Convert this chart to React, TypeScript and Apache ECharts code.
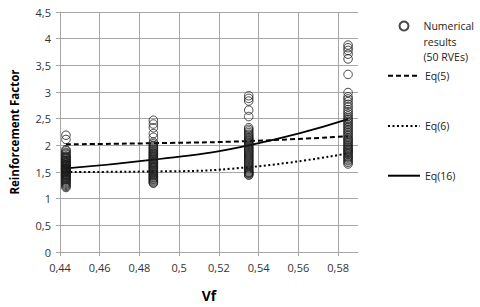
import React, { useEffect, useRef } from 'react';
import * as echarts from 'echarts';

// Volume fraction of each group of RVEs
const vfColumns = [0.443, 0.487, 0.535, 0.585];

// Numerical results (50 RVEs per volume fraction)
const rveVf1 = [2.19, 2.11, 1.92, 1.90, 1.87, 1.85, 1.83, 1.80, 1.79, 1.77, 1.76, 1.74, 1.72, 1.71, 1.70, 1.68, 1.67, 1.66, 1.64, 1.63, 1.62, 1.61, 1.60, 1.58, 1.57, 1.56, 1.55, 1.54, 1.53, 1.52, 1.51, 1.50, 1.49, 1.48, 1.46, 1.45, 1.44, 1.43, 1.41, 1.40, 1.38, 1.36, 1.35, 1.33, 1.31, 1.29, 1.27, 1.25, 1.23, 1.21];
const rveVf2 = [2.47, 2.40, 2.33, 2.22, 2.15, 2.06, 2.03, 2.00, 1.98, 1.96, 1.94, 1.92, 1.90, 1.88, 1.86, 1.85, 1.83, 1.81, 1.79, 1.78, 1.76, 1.74, 1.73, 1.71, 1.69, 1.68, 1.66, 1.65, 1.63, 1.61, 1.60, 1.58, 1.57, 1.55, 1.53, 1.52, 1.50, 1.49, 1.47, 1.45, 1.44, 1.42, 1.40, 1.39, 1.37, 1.36, 1.34, 1.32, 1.30, 1.29];
const rveVf3 = [2.93, 2.88, 2.83, 2.66, 2.54, 2.33, 2.30, 2.27, 2.24, 2.21, 2.19, 2.16, 2.14, 2.12, 2.10, 2.08, 2.06, 2.04, 2.02, 2.00, 1.98, 1.96, 1.94, 1.92, 1.90, 1.88, 1.86, 1.84, 1.82, 1.80, 1.78, 1.76, 1.74, 1.72, 1.70, 1.68, 1.66, 1.64, 1.62, 1.60, 1.58, 1.56, 1.54, 1.52, 1.50, 1.49, 1.48, 1.47, 1.45, 1.44];
const rveVf4 = [3.88, 3.83, 3.78, 3.71, 3.62, 3.33, 2.99, 2.91, 2.87, 2.82, 2.77, 2.72, 2.67, 2.63, 2.59, 2.55, 2.51, 2.48, 2.45, 2.42, 2.39, 2.36, 2.33, 2.30, 2.27, 2.24, 2.21, 2.18, 2.15, 2.12, 2.10, 2.07, 2.05, 2.02, 2.00, 1.97, 1.95, 1.93, 1.91, 1.89, 1.87, 1.85, 1.83, 1.80, 1.78, 1.76, 1.73, 1.71, 1.68, 1.65];

// Analytical equations
const eq5 = [2.02, 2.04, 2.08, 2.17];
const eq6 = [1.50, 1.51, 1.59, 1.85];
const eq16 = [1.57, 1.73, 2.00, 2.49];

// Tick labels
const xTicks = [0.44, 0.46, 0.48, 0.5, 0.52, 0.54, 0.56, 0.58];

const FONT = '"Open Sans", sans-serif';
const GRID = '#a6a6a6';
const INK = '#000000';

export default function App() {
  const ref = useRef<HTMLDivElement>(null);

  useEffect(() => {
    if (!ref.current) return;
    const chart = echarts.init(ref.current, undefined, { renderer: 'svg' });
    const rveGroups = [rveVf1, rveVf2, rveVf3, rveVf4];
    const scatterData: number[][] = [];
    rveGroups.forEach((g, i) => g.forEach((v) => scatterData.push([vfColumns[i], v])));
    const lineData = (vals: number[]) => vals.map((v, i) => [vfColumns[i], v]);
    const comma = (v: number) => String(Math.round(v * 100) / 100).replace('.', ',');

    const lineLegend = (name: string, top: number) => ({
      data: [name],
      left: 387,
      top,
      padding: 0,
      itemWidth: 32,
      itemHeight: 16,
      selectedMode: false,
      itemStyle: { opacity: 0 },
      textStyle: { fontFamily: FONT, fontSize: 10.5, lineHeight: 16, color: '#222' },
    });

    chart.setOption({
      animation: false,
      textStyle: { fontFamily: FONT },
      grid: { left: 52, right: 122, top: 12, bottom: 55, containLabel: false },
      xAxis: {
        type: 'value',
        min: 0.44,
        max: 0.59,
        interval: 0.02,
        name: 'Vf',
        nameLocation: 'middle',
        nameGap: 36,
        nameTextStyle: { fontFamily: FONT, fontWeight: 'bold', fontSize: 14, color: '#000' },
        axisLine: { show: true, lineStyle: { color: GRID, width: 1 } },
        axisTick: { show: true, length: 4, customValues: xTicks, lineStyle: { color: GRID } },
        axisLabel: {
          customValues: xTicks,
          margin: 10,
          fontSize: 11,
          color: '#333',
          fontFamily: FONT,
          formatter: (v: number) => comma(v),
        },
        splitLine: { show: true, lineStyle: { color: GRID, width: 1 } },
      },
      yAxis: {
        type: 'value',
        min: 0,
        max: 4.5,
        interval: 0.5,
        name: 'Reinforcement Factor',
        nameLocation: 'middle',
        nameGap: 40,
        nameTextStyle: { fontFamily: FONT, fontWeight: 'bold', fontSize: 11.5, color: '#000' },
        axisLine: { show: true, lineStyle: { color: GRID, width: 1 } },
        axisTick: { show: true, length: 4, lineStyle: { color: GRID } },
        axisLabel: {
          margin: 9,
          fontSize: 11,
          color: '#333',
          fontFamily: FONT,
          formatter: (v: number) => comma(v),
        },
        splitLine: { show: true, lineStyle: { color: GRID, width: 1 } },
      },
      legend: [
        {
          data: [{ name: 'Numerical results (50 RVEs)', icon: 'circle' }],
          formatter: () => '\n\nNumerical\nresults\n(50 RVEs)',
          left: 398.5,
          top: -12.75,
          padding: 0,
          itemWidth: 9,
          itemHeight: 9,
          selectedMode: false,
          textStyle: { fontFamily: FONT, fontSize: 10.5, lineHeight: 15.5, color: '#222', padding: [0, 0, 0, 10] },
        },
        lineLegend('Eq(5)', 67.7),
        lineLegend('Eq(6)', 118),
        lineLegend('Eq(16)', 167.7),
      ],
      series: [
        {
          name: 'Numerical results (50 RVEs)',
          type: 'scatter',
          data: scatterData,
          symbol: 'circle',
          symbolSize: 8.5,
          itemStyle: { color: 'rgba(255,255,255,0)', borderColor: '#1a1a1a', borderWidth: 1 },
          z: 3,
        },
        {
          name: 'Eq(5)',
          type: 'line',
          data: lineData(eq5),
          smooth: true,
          symbol: 'none',
          lineStyle: { color: INK, width: 2, type: [5, 3] },
          itemStyle: { color: INK },
          z: 2,
        },
        {
          name: 'Eq(6)',
          type: 'line',
          data: lineData(eq6),
          smooth: true,
          symbol: 'none',
          lineStyle: { color: INK, width: 2, type: [2, 2.5] },
          itemStyle: { color: INK },
          z: 2,
        },
        {
          name: 'Eq(16)',
          type: 'line',
          data: lineData(eq16),
          smooth: true,
          symbol: 'none',
          lineStyle: { color: INK, width: 1.75, type: 'solid' },
          itemStyle: { color: INK },
          z: 2,
        },
      ],
    });
    return () => chart.dispose();
  }, []);

  return (
    <div
      ref={ref}
      style={{ position: 'fixed', left: 0, top: 0, width: 480, height: 307, background: '#fff' }}
    />
  );
}
